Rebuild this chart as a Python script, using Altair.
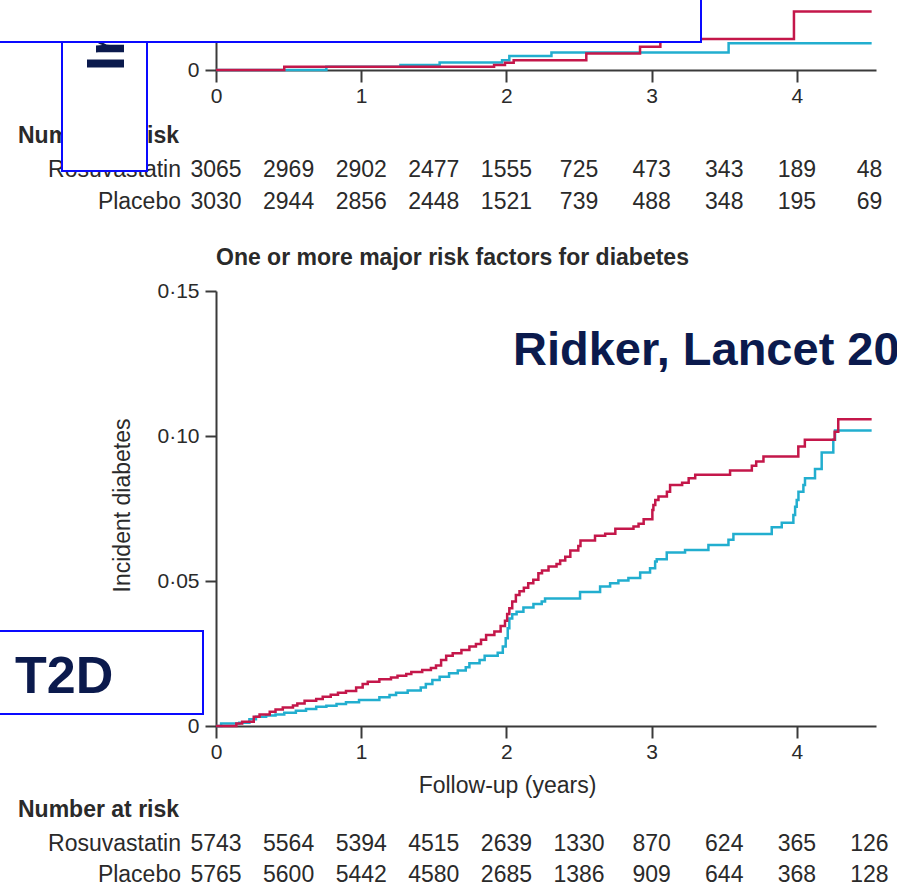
import altair as alt
import pandas as pd

# ---------------- data ----------------
groups = ["Placebo", "Rosuvastatin"]
line_colors = ["#22aecf", "#c4174a"]

# lower panel: one or more major risk factors
bot_rosu_t = [0.00, 0.14, 0.18, 0.26, 0.30, 0.37, 0.41, 0.46, 0.53, 0.56, 0.61, 0.69, 0.735, 0.79, 0.84,
              0.895, 0.965, 1.01, 1.045, 1.125, 1.205, 1.25, 1.31, 1.345, 1.42, 1.48, 1.515, 1.55, 1.585,
              1.63, 1.69, 1.745, 1.79, 1.825, 1.86, 1.917, 1.96, 1.99, 2.005, 2.02, 2.04, 2.065, 2.09, 2.12,
              2.15, 2.185, 2.22, 2.245, 2.29, 2.345, 2.37, 2.405, 2.44, 2.495, 2.51, 2.61, 2.68, 2.75, 2.875,
              2.91, 2.945, 3.005, 3.012, 3.025, 3.047, 3.105, 3.127, 3.21, 3.255, 3.30, 3.54, 3.69, 3.72,
              3.77, 4.01, 4.055, 4.26, 4.285, 4.515]
bot_rosu_v = [0.0, 0.0009, 0.0015, 0.0032, 0.0040, 0.0049, 0.0057, 0.0064, 0.0071, 0.0078, 0.0087, 0.0093,
              0.0101, 0.0108, 0.0115, 0.0121, 0.0133, 0.0145, 0.0153, 0.0161, 0.0167, 0.0173, 0.0179, 0.0186,
              0.0193, 0.0200, 0.0209, 0.0228, 0.0242, 0.0251, 0.0262, 0.0274, 0.0283, 0.0297, 0.0314, 0.0326,
              0.0345, 0.0363, 0.0386, 0.0406, 0.0429, 0.0452, 0.0465, 0.0477, 0.0492, 0.0504, 0.0527, 0.0536,
              0.0550, 0.0559, 0.0571, 0.0584, 0.0605, 0.0621, 0.0640, 0.0656, 0.0663, 0.0680, 0.0688, 0.0697,
              0.0713, 0.0745, 0.0762, 0.0779, 0.0791, 0.0808, 0.0831, 0.0839, 0.0854, 0.0866, 0.0881, 0.0897,
              0.0912, 0.0929, 0.0964, 0.0987, 0.1015, 0.1058, 0.1058]
bot_plac_t = [0.00, 0.035, 0.16, 0.23, 0.275, 0.345, 0.41, 0.47, 0.55, 0.62, 0.69, 0.76, 0.83, 0.895, 0.985,
              1.125, 1.195, 1.24, 1.32, 1.41, 1.445, 1.49, 1.54, 1.605, 1.665, 1.72, 1.745, 1.815, 1.85, 1.94,
              1.975, 1.995, 2.009, 2.02, 2.04, 2.07, 2.117, 2.186, 2.243, 2.266, 2.507, 2.645, 2.714, 2.771,
              2.84, 2.921, 2.989, 3.024, 3.035, 3.104, 3.23, 3.391, 3.529, 3.563, 3.827, 3.896, 3.976, 3.988,
              3.999, 4.011, 4.045, 4.056, 4.125, 4.171, 4.251, 4.263, 4.515]
bot_plac_v = [0.0, 0.0009, 0.0011, 0.0023, 0.0032, 0.0036, 0.0040, 0.0046, 0.0053, 0.0059, 0.0066, 0.0070,
              0.0076, 0.0082, 0.0090, 0.0099, 0.0107, 0.0115, 0.0122, 0.0133, 0.0145, 0.0159, 0.0170, 0.0182,
              0.0191, 0.0203, 0.0216, 0.0228, 0.0242, 0.0253, 0.0274, 0.0303, 0.0337, 0.0371, 0.0385, 0.0394,
              0.0409, 0.0421, 0.0429, 0.0440, 0.0462, 0.0481, 0.0492, 0.0502, 0.0510, 0.0529, 0.0544, 0.0567,
              0.0575, 0.0598, 0.0607, 0.0624, 0.0642, 0.0662, 0.0685, 0.0701, 0.0728, 0.0756, 0.0779, 0.0808,
              0.0831, 0.0854, 0.0886, 0.0943, 0.0987, 0.1019, 0.1019]

# upper panel (mostly hidden)
top_rosu_t = [0.0, 0.47, 1.915, 1.99, 2.05, 2.55, 2.92, 3.06, 3.98, 4.515]
top_rosu_v = [0.0, 0.0011, 0.0017, 0.0025, 0.0034, 0.0057, 0.0080, 0.0107, 0.0202, 0.0202]
top_plac_t = [0.0, 0.76, 1.27, 1.54, 1.97, 2.02, 2.31, 3.53, 4.515]
top_plac_v = [0.0, 0.0011, 0.0017, 0.0026, 0.0034, 0.0048, 0.0060, 0.0092, 0.0092]

# numbers at risk
risk_years = [0, 0.5, 1, 1.5, 2, 2.5, 3, 3.5, 4, 4.5]
top_rosu_n = [3065, 2969, 2902, 2477, 1555, 725, 473, 343, 189, 48]
top_plac_n = [3030, 2944, 2856, 2448, 1521, 739, 488, 348, 195, 69]
bot_rosu_n = [5743, 5564, 5394, 4515, 2639, 1330, 870, 624, 365, 126]
bot_plac_n = [5765, 5600, 5442, 4580, 2685, 1386, 909, 644, 368, 128]

x_ticks = [0, 1, 2, 3, 4]
y_ticks = [0, 0.05, 0.10, 0.15]

# ---------------- styling ----------------
W, H = 897, 893
FONT = "Liberation Sans, Arial, Helvetica, sans-serif"
TXT = "#2a2a2a"
AX = "#3a3a3a"
NAVY = "#0b1a4d"
BLUE = "#0a0aff"

def xscale():
    return alt.Scale(domain=[0, 4.545], range=[216, 876], nice=False, zero=False)

color_scale = alt.Scale(domain=groups, range=line_colors)

def mk(t, v, g):
    return pd.DataFrame({"t": t, "v": v, "group": g})

top_df = pd.concat([mk(top_plac_t, top_plac_v, "Placebo"), mk(top_rosu_t, top_rosu_v, "Rosuvastatin")])
bot_df = pd.concat([mk(bot_plac_t, bot_plac_v, "Placebo"), mk(bot_rosu_t, bot_rosu_v, "Rosuvastatin")])

axis_common = dict(domainColor=AX, domainWidth=2, tickColor=AX, tickWidth=2, grid=False,
                   labelFont=FONT, labelFontSize=21, labelColor=TXT, labelFlush=False, labelOverlap=False)

top_x_axis = alt.Axis(values=x_ticks, format="d", orient="bottom", offset=70 - H, tickSize=12,
                      labelPadding=3, title=None, **axis_common)
top_y_axis = alt.Axis(values=[0], format="d", orient="left", offset=-216, tickSize=11,
                      labelPadding=6, title=None, **axis_common)
bot_x_axis = alt.Axis(values=x_ticks, format="d", orient="bottom", offset=726 - H, tickSize=12,
                      labelPadding=3, title="Follow-up (years)", titleFont=FONT, titleFontSize=23,
                      titleFontWeight="normal", titleColor=TXT, titleX=507, titleY=59,
                      titleAlign="center", titleBaseline="middle", **axis_common)
bot_y_axis = alt.Axis(values=y_ticks, orient="left", offset=-216, tickSize=11, labelPadding=6,
                      labelExpr="datum.value == 0 ? '0' : replace(format(datum.value, '.2f'), '.', '·')",
                      title="Incident diabetes", titleFont=FONT, titleFontSize=23,
                      titleFontWeight="normal", titleColor=TXT, titleAngle=270, titleX=-94, titleY=505,
                      titleAlign="center", titleBaseline="middle", **axis_common)

top_lines = alt.Chart(top_df).mark_line(interpolate="step-after", strokeWidth=2.5).encode(
    x=alt.X("t:Q", scale=xscale(), axis=top_x_axis),
    y=alt.Y("v:Q", scale=alt.Scale(domain=[0, 0.02414], range=[70, 0], nice=False, zero=False),
            axis=top_y_axis),
    color=alt.Color("group:N", scale=color_scale, legend=None),
)

bot_lines = alt.Chart(bot_df).mark_line(interpolate="step-after", strokeWidth=2.5).encode(
    x=alt.X("t:Q", scale=xscale(), axis=bot_x_axis),
    y=alt.Y("v:Q", scale=alt.Scale(domain=[0, 0.15], range=[726, 291], nice=False, zero=False),
            axis=bot_y_axis),
    color=alt.Color("group:N", scale=color_scale, legend=None),
)


def risk_row(values, ypix):
    df = pd.DataFrame({"yr": risk_years, "n": [str(v) for v in values]})
    return alt.Chart(df).mark_text(font=FONT, fontSize=23, color=TXT, align="center",
                                   baseline="alphabetic").encode(
        x=alt.X("yr:Q", scale=xscale(), axis=None),
        y=alt.value(ypix),
        text="n:N",
    )


def label(text, x, y, size=23, weight="normal", color=TXT, align="left", angle=0):
    kw = dict(text=text, font=FONT, fontSize=size, fontWeight=weight, color=color,
              align=align, baseline="alphabetic")
    if angle:
        kw["angle"] = angle
    return alt.Chart(alt.Data(values=[{}])).mark_text(**kw).encode(x=alt.value(x), y=alt.value(y))


def box(x1, x2, y1, y2):
    return alt.Chart(alt.Data(values=[{}])).mark_rect(fill="white", stroke=BLUE, strokeWidth=2).encode(
        x=alt.value(x1), x2=alt.value(x2), y=alt.value(y1), y2=alt.value(y2))


layers = [
    top_lines,
    bot_lines,
    # upper risk table
    label("Number at risk", 18, 143, weight="bold"),
    label("Rosuvastatin", 181, 177, align="right"),
    label("Placebo", 181, 209, align="right"),
    risk_row(top_rosu_n, 177),
    risk_row(top_plac_n, 209),
    # lower panel texts
    label("One or more major risk factors for diabetes", 216, 265, weight="bold"),
    label("Number at risk", 18, 817, weight="bold"),
    label("Rosuvastatin", 181, 851, align="right"),
    label("Placebo", 181, 882, align="right"),
    risk_row(bot_rosu_n, 851),
    risk_row(bot_plac_n, 882),
    # slide overlays
    box(62, 147, 30, 171),
    label("Ir", 124, 71, size=54, weight="bold", color=NAVY, angle=270),
    box(-5, 701, -5, 42),
    box(-5, 203, 631, 714),
    label("T2D", 15, 693, size=52, weight="bold", color=NAVY),
    label("Ridker, Lancet 2012", 513, 365, size=47, weight="bold", color=NAVY),
]

chart = alt.layer(*layers).resolve_scale(x="independent", y="independent").properties(
    width=W, height=H, padding=0, autosize=alt.AutoSizeParams(type="none"),
    background="white",
).configure_view(strokeWidth=0)

chart.save("out.html", embed_options={"renderer": "svg", "actions": False})
